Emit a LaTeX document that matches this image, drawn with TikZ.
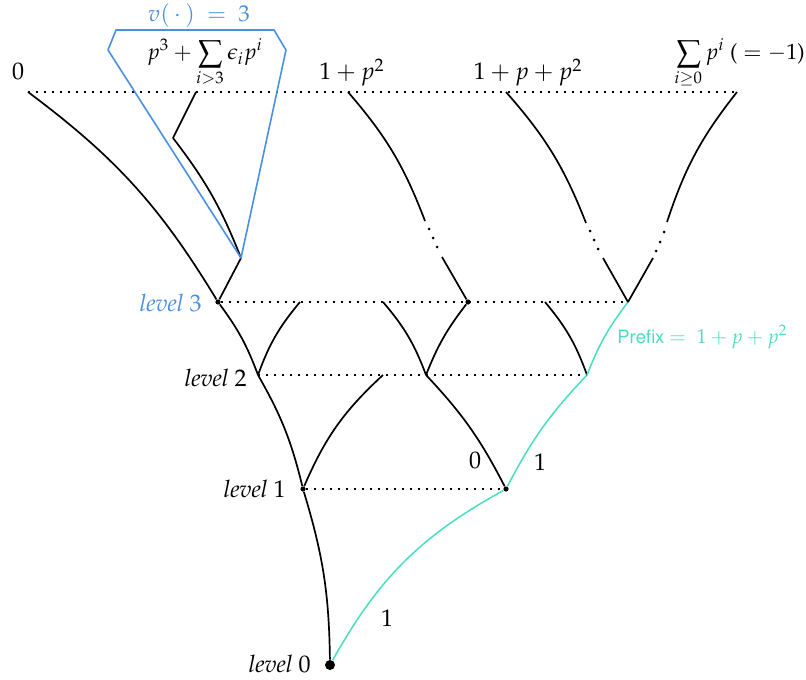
\documentclass[tikz,border=0pt]{standalone}
\usepackage[T1]{fontenc}
\usepackage{mathpazo}
\usepackage[scaled=0.92]{helvet}
\definecolor{tealc}{RGB}{72,222,192}
\definecolor{bluec}{RGB}{74,144,226}
\begin{document}
\begin{tikzpicture}[x=0.5pt,y=-0.5pt,
  edge/.style={line width=0.85pt},
  tedge/.style={line width=0.75pt,draw=tealc},
  lvl/.style={line width=1pt,dash pattern=on 1pt off 3pt},
  dotn/.style={circle,fill=black,inner sep=0pt,minimum size=2.6pt},
  bigdot/.style={circle,fill=black,inner sep=0pt,minimum size=5pt},
  gapdot/.style={circle,fill=black,inner sep=0pt,minimum size=1.5pt},
  lab/.style={font=\fontsize{12}{14}\selectfont,inner sep=0pt},
  lvlab/.style={lab,anchor=base east},
]
\useasboundingbox (0,0) rectangle (806,679);
% nodes
\node[bigdot] (r0) at (330,665) {};
\node[dotn] (a1) at (303,489) {};
\node[dotn] (b1) at (506,489) {};
\coordinate (a2) at (258,375);
\coordinate (s2a) at (383,375);
\coordinate (b2) at (426,375);
\coordinate (c2) at (587,375);
\node[dotn] (a3) at (218,302) {};
\coordinate (s3a) at (300,302);
\coordinate (s3b) at (383,302);
\node[dotn] (b3) at (468,302) {};
\coordinate (s3c) at (545,302);
\coordinate (c3) at (628,302);
\coordinate (t0) at (28,92);
\coordinate (q4) at (241,258);
\coordinate (q5) at (173,138);
\coordinate (t1) at (196,92);
\coordinate (g1) at (442,257);
\coordinate (h1) at (425,221);
\coordinate (t2) at (348,92);
\coordinate (g2) at (603,258);
\coordinate (h2) at (586,223);
\coordinate (t3) at (506,92);
\coordinate (g3) at (653,258);
\coordinate (h3) at (667,222);
\coordinate (t4) at (737,92);
% gap dots
\node[gapdot] (d11) at (437,247) {};
\node[gapdot] (d12) at (433,238) {};
\node[gapdot] (d13) at (429,229) {};
\node[gapdot] (d21) at (598,249) {};
\node[gapdot] (d22) at (594,240) {};
\node[gapdot] (d23) at (590,231) {};
\node[gapdot] (d31) at (656,251) {};
\node[gapdot] (d32) at (660,242) {};
\node[gapdot] (d33) at (664,232) {};
% level lines
\draw[lvl] (t0) -- (t4);
\draw[lvl] (a3) -- (c3);
\draw[lvl] (a2) -- (c2);
\draw[lvl] (a1) -- (b1);
% edges
\draw[edge] (r0) to[bend right=8] (a1);
\draw[tedge] (r0) to[bend left=16] (b1);
\draw[edge] (a1) to[bend right=8] (a2);
\draw[edge] (a1) to[bend left=12] (s2a);
\draw[edge] (b1) to[bend right=8] (b2);
\draw[tedge] (b1) to[bend left=8] (c2);
\draw[edge] (a2) to[bend right=8] (a3);
\draw[edge] (a2) to[bend left=10] (s3a);
\draw[edge] (b2) to[bend right=10] (s3b);
\draw[edge] (b2) to[bend left=8] (b3);
\draw[edge] (c2) to[bend right=10] (s3c);
\draw[tedge] (c2) to[bend left=8] (c3);
\draw[edge] (a3) to[bend right=11] (t0);
\draw[edge] (a3) -- (q4);
\draw[edge] (q4) to[bend right=8] (q5);
\draw[edge] (q5) -- (t1);
\draw[edge] (b3) -- (g1);
\draw[edge] (h1) to[bend right=10] (t2);
\draw[edge] (c3) -- (g2);
\draw[edge] (h2) to[bend right=10] (t3);
\draw[edge] (c3) -- (g3);
\draw[edge] (h3) to[bend left=10] (t4);
% blue frame
\coordinate (f1) at (108,50);
\coordinate (f2) at (116,30);
\coordinate (f3) at (274,30);
\coordinate (f4) at (286,50);
\draw[bluec,line width=0.8pt,line join=round] (f1) -- (f2) -- (f3) -- (f4) -- (q4) -- cycle;
% labels
\node[lab,anchor=base] (l0) at (18,80) {$0$};
\node[lab,anchor=base] (l1) at (352,80) {$1+p^2$};
\node[lab,anchor=base] (l2) at (528,80) {$1+p+p^2$};
\node[lab,anchor=base east,font=\fontsize{11}{13}\selectfont] (l3) at (805,60) {$\displaystyle\sum_{i\geq 0} p^i$ (${}={-}1$)};
\node[lab,anchor=base,font=\fontsize{11}{13}\selectfont] (l4) at (205,60) {$\displaystyle p^3+\sum_{i>3}\epsilon_i p^i$};
\node[lab,anchor=base,text=bluec,font=\fontsize{11.5}{13}\selectfont] (lv) at (199,22) {$v(\,\cdot\,)\ =\ 3$};
\node[lvlab,text=bluec] (lv3) at (202,311) {\textit{level} 3};
\node[lvlab] (lv2) at (247,386) {\textit{level} 2};
\node[lvlab] (lv1) at (286,497) {\textit{level} 1};
\node[lvlab] (lv0) at (311,672) {\textit{level} 0};
\node[lab] (e0) at (475,460) {$0$};
\node[lab] (e1) at (540,462) {$1$};
\node[lab] (e2) at (387,618) {$1$};
\node[inner sep=0pt,anchor=base west,text=tealc,font=\fontsize{10}{12}\selectfont] (pf) at (617,343) {\textsf{Prefix} $=\ 1+p+p^2$};
\end{tikzpicture}
\end{document}
